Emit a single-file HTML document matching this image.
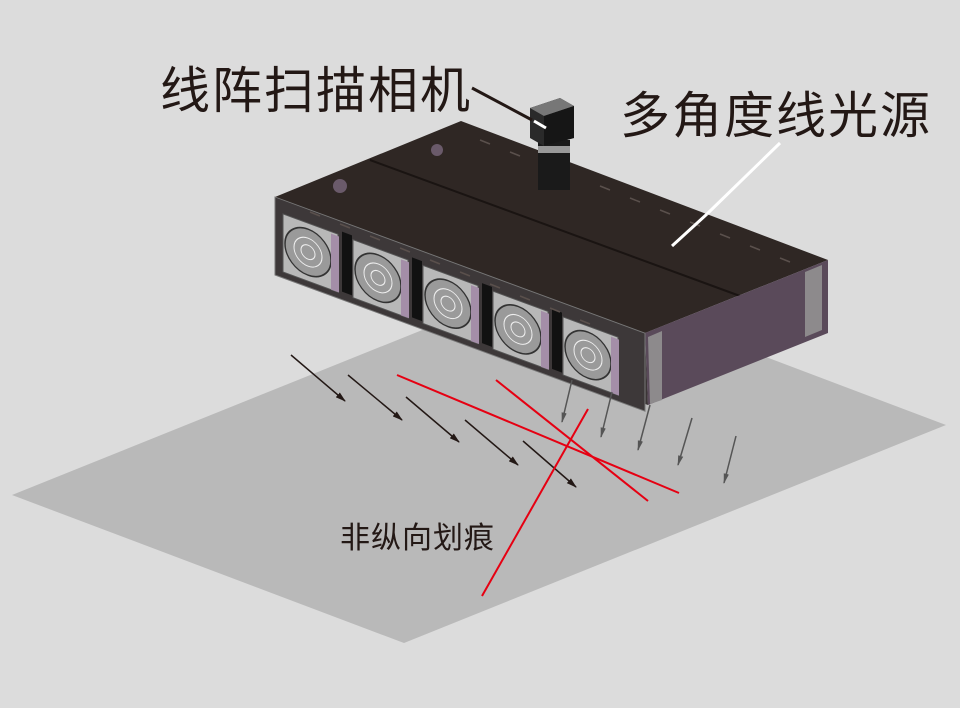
<!DOCTYPE html>
<html><head><meta charset="utf-8"><style>
html,body{margin:0;padding:0;background:#dcdcdc;}
svg{display:block;}
text{font-family:"Liberation Sans","Noto Sans CJK SC",sans-serif;fill:#231815;}
</style></head><body>
<svg width="960" height="708" viewBox="0 0 960 708" xmlns="http://www.w3.org/2000/svg">
<defs>
<marker id="ah" viewBox="0 0 10 10" refX="9" refY="5" markerWidth="7" markerHeight="7" orient="auto"><path d="M0,2 L10,5 L0,8 Z" fill="#231815"/></marker>
<marker id="ag" viewBox="0 0 10 10" refX="9" refY="5" markerWidth="7" markerHeight="7" orient="auto"><path d="M0,2.5 L10,5 L0,7.5 Z" fill="#555"/></marker>
</defs>
<rect width="960" height="708" fill="#dcdcdc"/>
<polygon points="12,495 554,277 946,425 404,643" fill="#b9b9b9"/>

<!-- box -->
<polygon points="275,197 461,121 828,260 645,333" fill="#2f2724"/>
<line x1="370" y1="160" x2="740" y2="296" stroke="#1a1412" stroke-width="2"/>
<polygon points="275,197 645,333 648,405 277,275" fill="#3b3536"/>
<polygon points="645,333 828,260 828,333 648,405" fill="#5a4a5a"/>
<polygon points="648,337 662,331 662,400 650,404" fill="#8d8a8c"/>
<polygon points="805,272 822,265 822,330 805,337" fill="#8d8a8c"/>
<g transform="translate(275,197) skewY(20.2)">
  <rect x="0" y="0" width="370" height="78" fill="#3d3839" stroke="#777" stroke-width="1"/>
  <g fill="#b8b8b8" stroke="#555" stroke-width="1">
    <rect x="8" y="14" width="55" height="58"/>
    <rect x="78" y="14" width="55" height="58"/>
    <rect x="148" y="14" width="55" height="58"/>
    <rect x="218" y="14" width="55" height="58"/>
    <rect x="288" y="14" width="55" height="58"/>
  </g>
  <g fill="#9a9a9a" stroke="#333" stroke-width="1.5">
    <circle cx="33" cy="43" r="23"/><circle cx="103" cy="43" r="23"/><circle cx="173" cy="43" r="23"/><circle cx="243" cy="43" r="23"/><circle cx="313" cy="43" r="23"/>
  </g>
  <g fill="none" stroke="#eee" stroke-width="1">
    <circle cx="33" cy="43" r="14"/><circle cx="103" cy="43" r="14"/><circle cx="173" cy="43" r="14"/><circle cx="243" cy="43" r="14"/><circle cx="313" cy="43" r="14"/>
    <circle cx="33" cy="43" r="7"/><circle cx="103" cy="43" r="7"/><circle cx="173" cy="43" r="7"/><circle cx="243" cy="43" r="7"/><circle cx="313" cy="43" r="7"/>
  </g>
  <g fill="#a48ea8">
    <rect x="56" y="16" width="8" height="56"/><rect x="126" y="16" width="8" height="56"/><rect x="196" y="16" width="8" height="56"/><rect x="266" y="16" width="8" height="56"/><rect x="336" y="16" width="8" height="56"/>
  </g>
  <g fill="#111">
    <rect x="67" y="10" width="10" height="60"/><rect x="137" y="10" width="10" height="60"/><rect x="207" y="10" width="10" height="60"/><rect x="277" y="10" width="10" height="60"/>
  </g>
</g>
<!-- slots on top -->
<g stroke="#5a504c" stroke-width="1.5" fill="none">
  <path d="M480,140 l10,4 M510,152 l10,4 M540,164 l10,4 M600,186 l10,4 M630,198 l10,4 M660,210 l10,4 M690,222 l10,4 M720,234 l10,4 M750,246 l10,4 M780,258 l10,4"/>
  <path d="M310,212 l10,4 M340,224 l10,4 M370,236 l10,4 M400,248 l10,4 M430,260 l10,4 M460,272 l10,4 M490,284 l10,4 M520,296 l10,4 M550,308 l10,4 M580,320 l10,4"/>
</g>
<circle cx="437" cy="150" r="6" fill="#6a5a6a"/>
<circle cx="340" cy="186" r="7" fill="#6a5a6a"/>

<!-- camera -->
<rect x="538" y="140" width="32" height="50" fill="#1a1a1a"/>
<rect x="538" y="146" width="32" height="7" fill="#999"/>
<polygon points="530,108 560,98 574,106 574,138 544,146 530,138" fill="#2a2a2a"/>
<polygon points="530,108 560,98 574,106 544,116" fill="#777"/>
<polygon points="544,116 574,106 574,138 544,146" fill="#161616"/>

<!-- labels -->
<text x="160" y="108" font-size="50" letter-spacing="2">线阵扫描相机</text>
<text x="620" y="133" font-size="50" letter-spacing="2">多角度线光源</text>
<text x="340" y="548" font-size="30" letter-spacing="1">非纵向划痕</text>
<line x1="472" y1="88" x2="532" y2="120" stroke="#231815" stroke-width="3"/>
<line x1="534" y1="121" x2="546" y2="128" stroke="#fff" stroke-width="3"/>
<line x1="780" y1="143" x2="707" y2="214" stroke="#fff" stroke-width="3"/>
<line x1="707" y1="214" x2="672" y2="246" stroke="#fff" stroke-width="3"/>

<!-- arrows -->
<g stroke="#231815" stroke-width="1.5" marker-end="url(#ah)">
  <line x1="291" y1="355" x2="345" y2="401"/>
  <line x1="348" y1="375" x2="402" y2="420"/>
  <line x1="406" y1="397" x2="459" y2="442"/>
  <line x1="465" y1="420" x2="518" y2="465"/>
  <line x1="523" y1="441" x2="576" y2="487"/>
</g>
<g stroke="#555" stroke-width="1.5" marker-end="url(#ag)">
  <line x1="572" y1="380" x2="562" y2="422"/>
  <line x1="612" y1="392" x2="601" y2="437"/>
  <line x1="650" y1="405" x2="638" y2="450"/>
  <line x1="692" y1="418" x2="678" y2="465"/>
  <line x1="736" y1="436" x2="724" y2="483"/>
</g>
<g stroke="#e60012" stroke-width="2">
  <line x1="397" y1="375" x2="679" y2="493"/>
  <line x1="496" y1="380" x2="648" y2="501"/>
  <line x1="588" y1="409" x2="482" y2="596"/>
</g>
</svg>
</body></html>
